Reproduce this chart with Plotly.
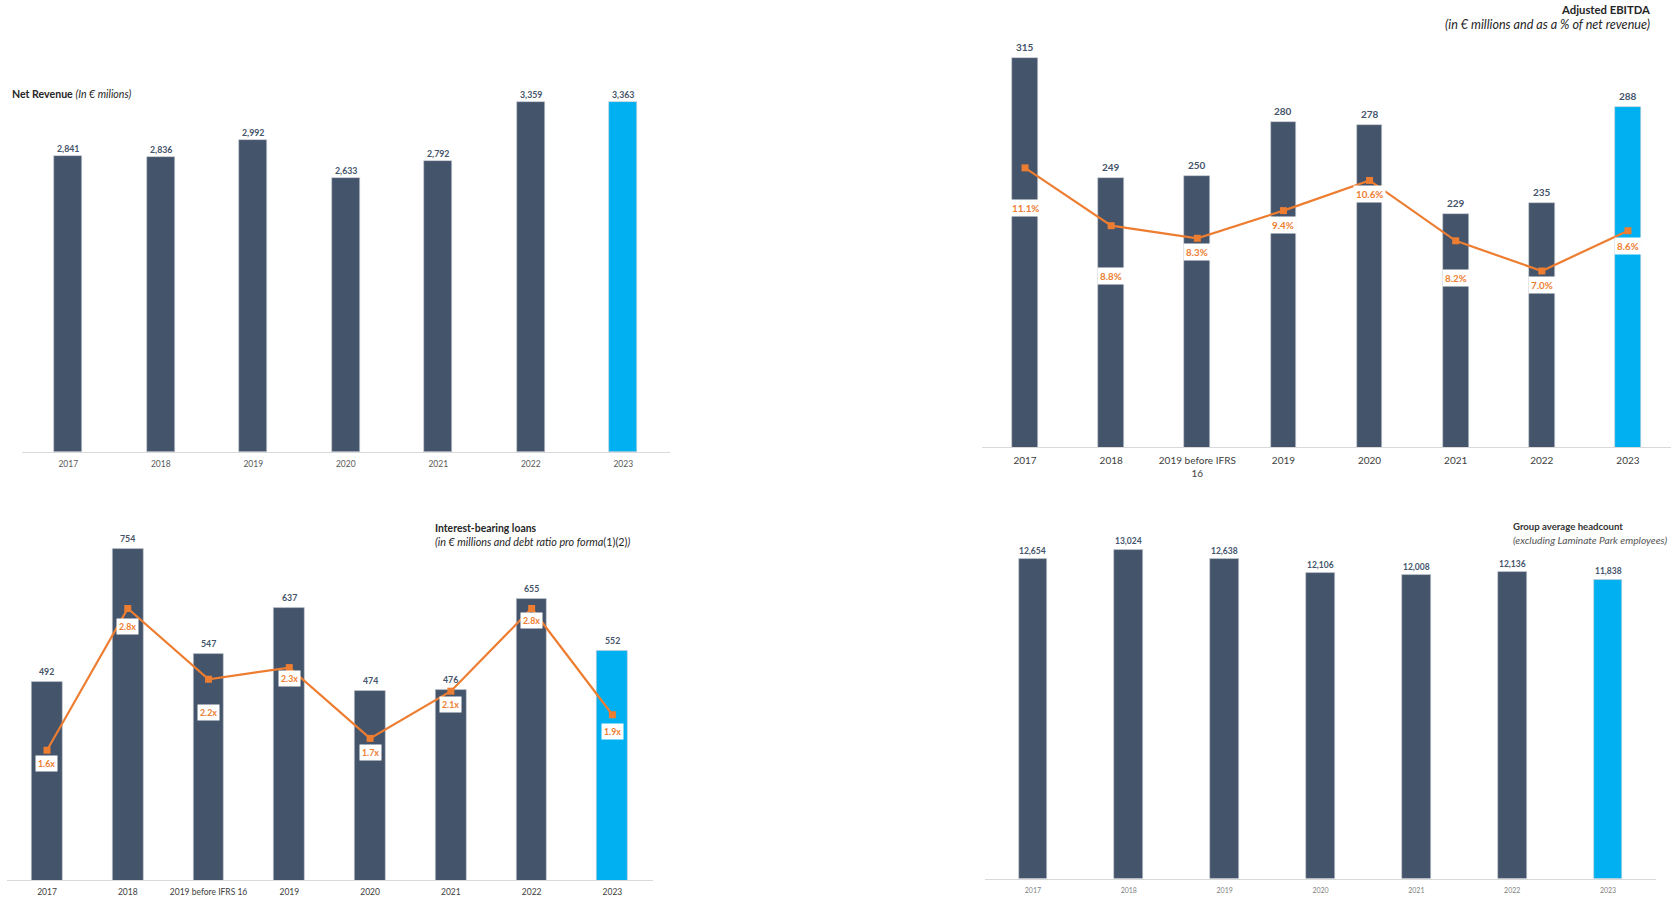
import plotly.graph_objects as go

# ---------------- DATA ----------------
rev_years = ["2017", "2018", "2019", "2020", "2021", "2022", "2023"]
rev_values = [2841, 2836, 2992, 2633, 2792, 3359, 3363]

ebitda_cats = ["2017", "2018", "2019 before IFRS 16", "2019", "2020", "2021", "2022", "2023"]
ebitda_values = [315, 249, 250, 280, 278, 229, 235, 288]
ebitda_margin = [11.1, 8.8, 8.3, 9.4, 10.6, 8.2, 7.0, 8.6]

loan_cats = ["2017", "2018", "2019 before IFRS 16", "2019", "2020", "2021", "2022", "2023"]
loan_values = [492, 754, 547, 637, 474, 476, 655, 552]
loan_ratio = [1.6, 2.8, 2.2, 2.3, 1.7, 2.1, 2.8, 1.9]

hc_years = ["2017", "2018", "2019", "2020", "2021", "2022", "2023"]
hc_values = [12654, 13024, 12638, 12106, 12008, 12136, 11838]

# ---------------- STYLE ----------------
W, H = 1673, 897
DARK = "#44546A"
BLUE = "#00B0F0"
ORANGE = "#ED7D31"
AXIS = "#D9D9D9"
FONT = "Lato"
margin_label_shift = [-40, -50, -14, -14, -14, -37, -14, -15]
ratio_label_shift = [-13, -18, -33, -11, -14, -13, -12, -17]


def dx(a, b):
    return [a / W, b / W]


def dy(top, bottom):
    return [1 - bottom / H, 1 - top / H]


def colors(n):
    return [DARK] * (n - 1) + [BLUE]


fig = go.Figure()

# Panel 1: Net revenue
fig.add_trace(go.Bar(x=rev_years, y=rev_values, marker_color=colors(len(rev_years)),
                     marker_line=dict(color="#C9CDD3", width=0.6), width=0.30,
                     xaxis="x", yaxis="y", showlegend=False))
# Panel 2: EBITDA
fig.add_trace(go.Bar(x=ebitda_cats, y=ebitda_values, marker_color=colors(len(ebitda_cats)),
                     marker_line=dict(color="#C9CDD3", width=0.6), width=0.30,
                     xaxis="x2", yaxis="y2", showlegend=False))
fig.add_trace(go.Scatter(x=ebitda_cats, y=ebitda_margin, mode="lines+markers",
                         line=dict(color=ORANGE, width=2.2),
                         marker=dict(symbol="square", size=7, color=ORANGE),
                         xaxis="x2", yaxis="y3", showlegend=False))
# Panel 3: loans
fig.add_trace(go.Bar(x=loan_cats, y=loan_values, marker_color=colors(len(loan_cats)),
                     marker_line=dict(color="#C9CDD3", width=0.6), width=0.38,
                     xaxis="x3", yaxis="y4", showlegend=False))
fig.add_trace(go.Scatter(x=loan_cats, y=loan_ratio, mode="lines+markers",
                         line=dict(color=ORANGE, width=2.2),
                         marker=dict(symbol="square", size=7, color=ORANGE),
                         xaxis="x3", yaxis="y5", showlegend=False))
# Panel 4: headcount
fig.add_trace(go.Bar(x=hc_years, y=hc_values, marker_color=colors(len(hc_years)),
                     marker_line=dict(color="#C9CDD3", width=0.6), width=0.30,
                     xaxis="x4", yaxis="y6", showlegend=False))

annotations = []


def value_labels(vals, xref, yref, size, fmt, shift):
    # category axis: use the category index as x position
    for i, v in enumerate(vals):
        annotations.append(dict(x=i, y=v, xref=xref, yref=yref, text="<b>" + fmt(v) + "</b>",
                                showarrow=False, yanchor="bottom", yshift=shift,
                                font=dict(family=FONT, size=size, color=DARK)))


value_labels(rev_values, "x", "y", 8.8, lambda v: f"{v:,}", 0)
value_labels(ebitda_values, "x2", "y2", 10, lambda v: f"{v}", 3)
value_labels(loan_values, "x3", "y4", 8.8, lambda v: f"{v}", 3)
value_labels(hc_values, "x4", "y6", 8.5, lambda v: f"{v:,}", 1)

for i, (v, s) in enumerate(zip(ebitda_margin, margin_label_shift)):
    annotations.append(dict(x=i, y=v, xref="x2", yref="y3", text=f"<b>{v:.1f}%</b>",
                            showarrow=False, yshift=s, bgcolor="white", borderpad=2,
                            font=dict(family=FONT, size=9.8, color=ORANGE)))
for i, (v, s) in enumerate(zip(loan_ratio, ratio_label_shift)):
    annotations.append(dict(x=i, y=v, xref="x3", yref="y5", text=f"<b>{v:.1f}x</b>",
                            showarrow=False, yshift=s, bgcolor="white", borderpad=2,
                            font=dict(family=FONT, size=8.8, color=ORANGE)))

TITLE = "#262626"
annotations += [
    dict(x=10 / W, y=1 - 94 / H, xref="paper", yref="paper", xanchor="left", yanchor="middle",
         text="<b>Net Revenue</b> <i>(In € milions)</i>", showarrow=False,
         font=dict(family=FONT, size=10.6, color=TITLE)),
    dict(x=1652 / W, y=1 - 10 / H, xref="paper", yref="paper", xanchor="right", yanchor="middle",
         text="<b>Adjusted EBITDA</b>", showarrow=False,
         font=dict(family=FONT, size=11.3, color=TITLE)),
    dict(x=1652 / W, y=1 - 24.5 / H, xref="paper", yref="paper", xanchor="right", yanchor="middle",
         text="<i>(in € millions and as a % of net revenue)</i>", showarrow=False,
         font=dict(family=FONT, size=12.6, color=TITLE)),
    dict(x=433 / W, y=1 - 529 / H, xref="paper", yref="paper", xanchor="left", yanchor="middle",
         text="<b>Interest-bearing loans</b>", showarrow=False,
         font=dict(family=FONT, size=10.4, color=TITLE)),
    dict(x=433 / W, y=1 - 543 / H, xref="paper", yref="paper", xanchor="left", yanchor="middle",
         text="<i>(in € millions and debt ratio pro forma</i>(1)(2)<i>)</i>", showarrow=False,
         font=dict(family=FONT, size=10.8, color=TITLE)),
    dict(x=1511 / W, y=1 - 528 / H, xref="paper", yref="paper", xanchor="left", yanchor="middle",
         text="<b>Group average headcount</b>", showarrow=False,
         font=dict(family=FONT, size=9.6, color="#333333")),
    dict(x=1511 / W, y=1 - 541 / H, xref="paper", yref="paper", xanchor="left", yanchor="middle",
         text="<i>(excluding Laminate Park employees)</i>", showarrow=False,
         font=dict(family=FONT, size=10.2, color="#555555")),
]


def xax(domain, anchor, n, size, color, ticktext=None, cats=None):
    d = dict(domain=domain, anchor=anchor, type="category", range=[-0.5, n - 0.5],
             showline=True, linecolor=AXIS, linewidth=1.2, showgrid=False, zeroline=False,
             ticks="", ticklabelstandoff=4, fixedrange=True,
             tickfont=dict(family=FONT, size=size, color=color))
    if ticktext is not None:
        d.update(tickmode="array", tickvals=cats, ticktext=ticktext)
    return d


def yax(domain, anchor, rng, overlaying=None):
    d = dict(domain=domain, anchor=anchor, range=rng, visible=False, showgrid=False,
             zeroline=False, fixedrange=True)
    if overlaying:
        d["overlaying"] = overlaying
    return d


ebitda_ticks = [c.replace("IFRS 16", "IFRS<br>16") for c in ebitda_cats]

fig.update_layout(
    width=W, height=H, margin=dict(l=0, r=0, t=0, b=0),
    paper_bgcolor="white", plot_bgcolor="rgba(0,0,0,0)",
    bargap=0, showlegend=False,
    xaxis=xax(dx(22, 669.5), "y", len(rev_years), 8.5, "#595959"),
    yaxis=yax(dy(30, 453), "x", [0, 4053]),
    xaxis2=xax(dx(982, 1671), "y2", len(ebitda_cats), 10, "#404040", ebitda_ticks, ebitda_cats),
    yaxis2=yax(dy(13, 448), "x2", [100, 340.1]),
    yaxis3=yax(dy(13, 448), "x2", [0, 17.26], overlaying="y2"),
    xaxis3=xax(dx(6.6, 652.8), "y4", len(loan_cats), 8.5, "#404040"),
    yaxis4=yax(dy(500, 882), "x3", [100, 853.4]),
    yaxis5=yax(dy(500, 882), "x3", [0.5, 3.729], overlaying="y4"),
    xaxis4=xax(dx(985, 1656), "y6", len(hc_years), 7, "#7F7F7F"),
    yaxis6=yax(dy(510, 881), "x4", [0, 14625]),
    annotations=annotations,
)

fig.write_html("out.html", config={"displayModeBar": False},
               post_script="document.body.style.margin='0';document.body.style.overflow='hidden';")
